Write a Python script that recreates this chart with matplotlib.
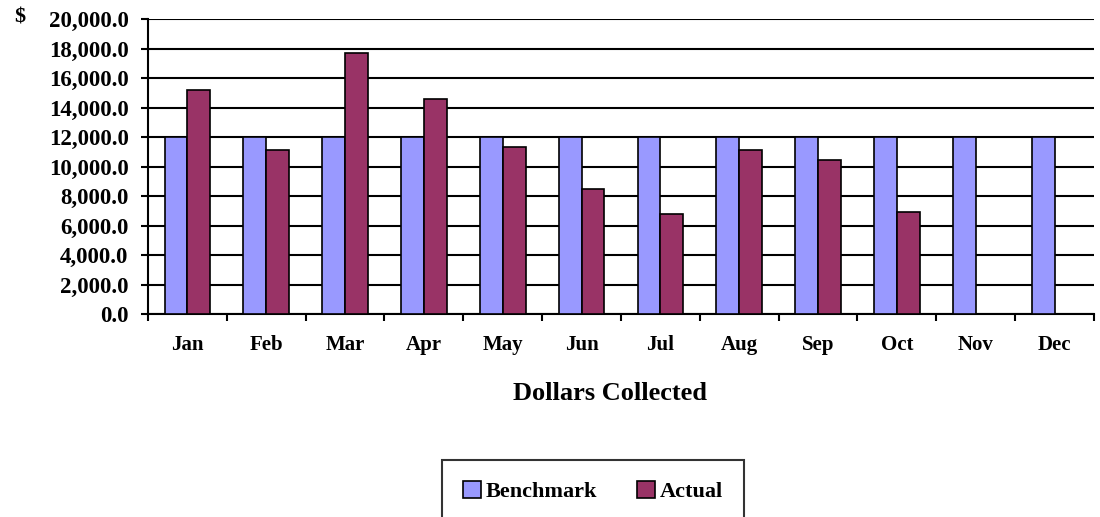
import numpy as np
import matplotlib
matplotlib.use("Agg")
import matplotlib.pyplot as plt
from matplotlib.patches import Patch

# data
months = ["Jan", "Feb", "Mar", "Apr", "May", "Jun", "Jul", "Aug", "Sep", "Oct", "Nov", "Dec"]
benchmark = [12000, 12000, 12000, 12000, 12000, 12000, 12000, 12000, 12000, 12000, 12000, 12000]
actual = [15200, 11100, 17700, 14550, 11300, 8500, 6800, 11100, 10450, 6900, np.nan, np.nan]
yticks = [0, 2000, 4000, 6000, 8000, 10000, 12000, 14000, 16000, 18000, 20000]

blue = "#9999ff"
plum = "#993366"

plt.rcParams["font.family"] = ["Liberation Serif", "DejaVu Serif"]
plt.rcParams["font.weight"] = "bold"

fig = plt.figure(figsize=(11, 5.17), dpi=100)
ax = fig.add_axes([0.1345, 0.3926, 0.86, 0.5706])

x = np.arange(len(months))
w = 0.29
ax.bar(x - w / 2, benchmark, w, color=blue, edgecolor="black", linewidth=1.2, zorder=3)
ax.bar(x + w / 2, actual, w, color=plum, edgecolor="black", linewidth=1.2, zorder=3)

ax.set_xlim(-0.5, len(months) - 0.5)
ax.set_ylim(0, 20000)
ax.set_yticks(yticks)
ax.set_yticklabels([f"{v:,.1f}" for v in yticks], fontsize=16.5, fontweight="bold")
ax.yaxis.grid(True, color="black", linewidth=1.5, zorder=0)
ax.set_axisbelow(True)

ax.set_xticks(x)
ax.set_xticklabels(months, fontsize=15, fontweight="bold")
ax.set_xticks(np.arange(-0.5, len(months)), minor=True)
ax.tick_params(axis="x", which="major", length=0, pad=15)
ax.tick_params(axis="x", which="minor", length=5, width=1.5, direction="out")
ax.tick_params(axis="y", length=5, width=1.5, direction="out", pad=9)

for s in ["top", "right"]:
    ax.spines[s].set_visible(False)
for s in ["left", "bottom"]:
    ax.spines[s].set_linewidth(1.5)

ax.set_xlabel("Dollars Collected", fontsize=19, fontweight="bold")
ax.xaxis.set_label_coords((610 - 148) / (1094 - 148), -(393 - 314) / 295, transform=ax.transAxes)
ax.xaxis.label.set_va("center")
fig.text(20 / 1100, 1 - 18 / 517, "$", fontsize=16, fontweight="bold", ha="center", va="center")

handles = [Patch(facecolor=blue, edgecolor="black", linewidth=1.2, label="Benchmark"),
           Patch(facecolor=plum, edgecolor="black", linewidth=1.2, label="Actual")]
leg = fig.legend(handles=handles, loc="upper center", bbox_to_anchor=(593 / 1100, 1 - 460 / 517),
                 ncol=2, frameon=True, fancybox=False, edgecolor="black",
                 handlelength=0.8, handleheight=0.8, handletextpad=0.2, columnspacing=1.8,
                 borderpad=0.95, borderaxespad=0, prop={"weight": "bold", "size": 16})
leg.get_frame().set_linewidth(1.5)

fig.savefig("out.png", dpi=100)
